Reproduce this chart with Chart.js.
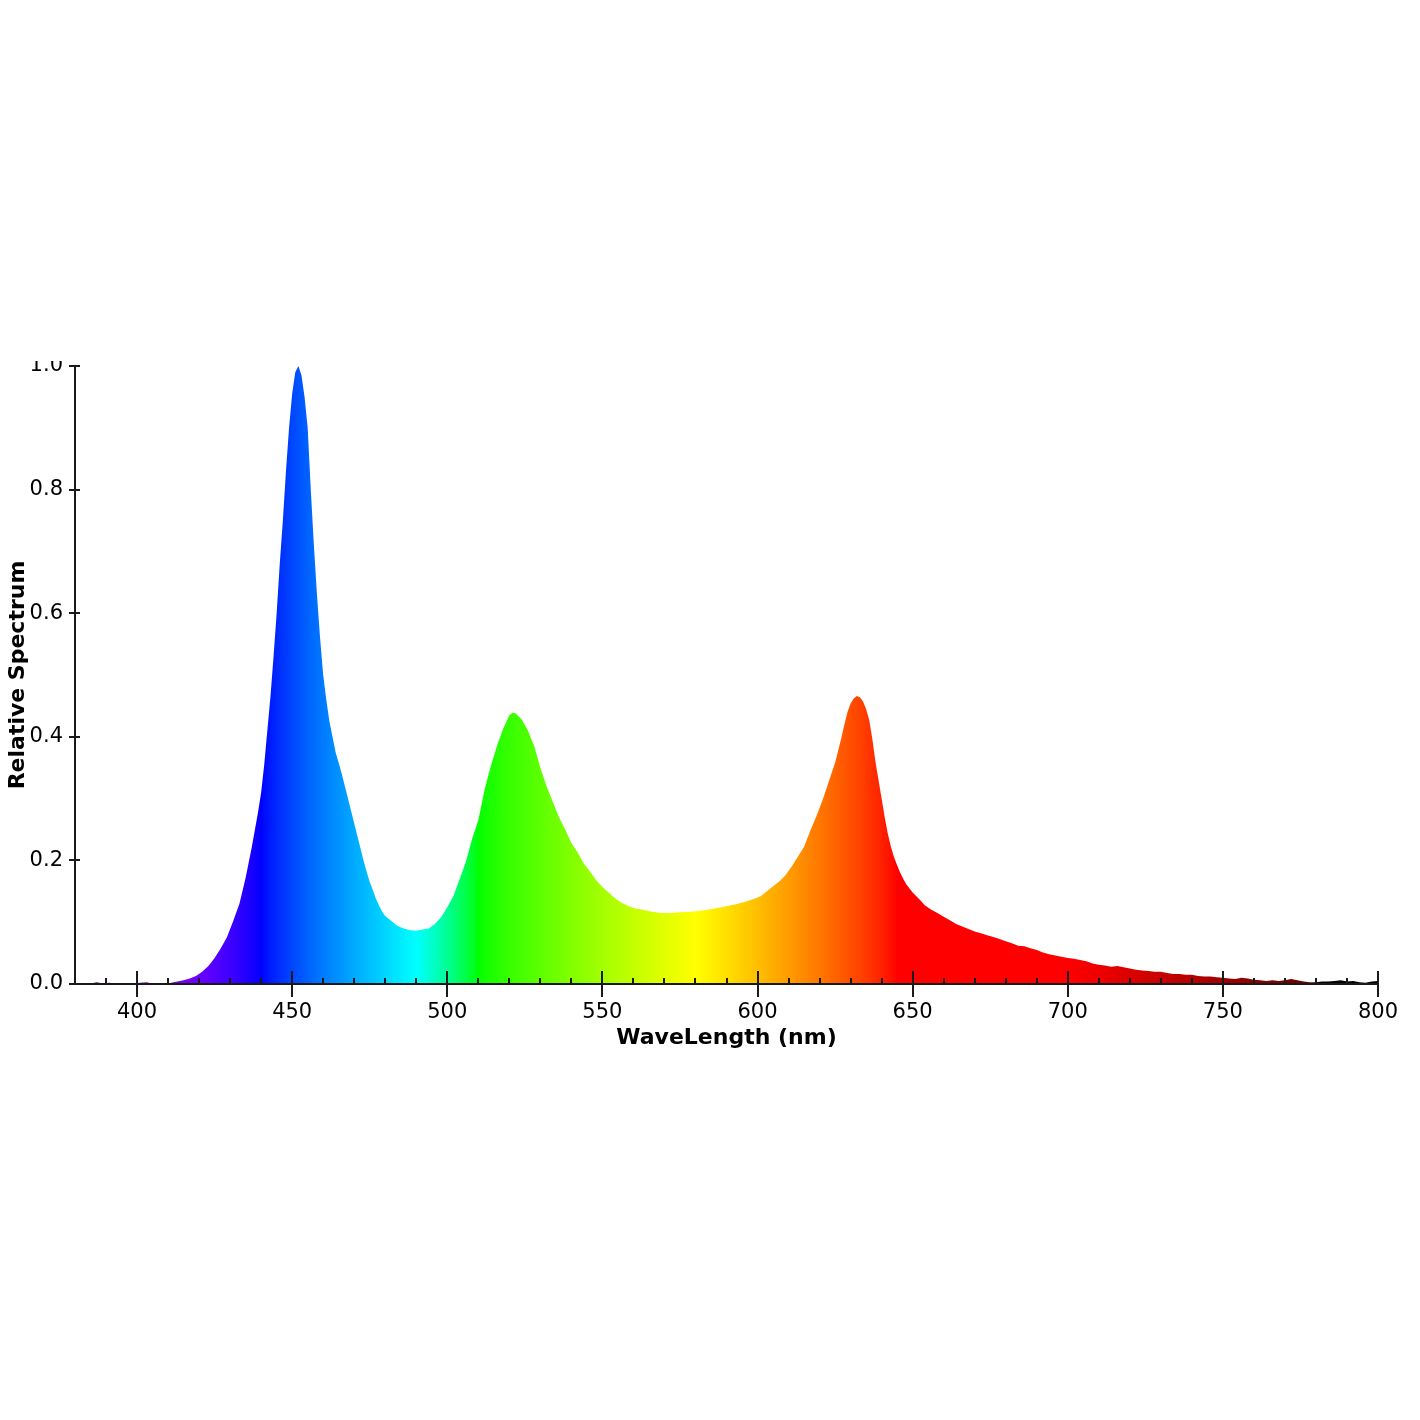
<!DOCTYPE html>
<html>
<head>
<meta charset="utf-8">
<script src="https://cdn.jsdelivr.net/npm/chart.js@4.4.1/dist/chart.umd.min.js"></script>
<style>
  html, body { margin: 0; padding: 0; background: #fff; }
</style>
</head>
<body>
<canvas id="mychart" width="1420" height="1420"></canvas>
<script>
// wavelength (nm) and relative spectrum
var wavelengths = [
  380, 383, 385, 387, 389, 391, 393, 395, 397, 399, 401, 403, 405, 407, 409, 411, 413, 415, 417, 419,
  421, 423, 425, 427, 429, 431, 433, 435, 437, 439, 440, 441, 442, 443, 444, 445, 446, 447, 448, 449,
  450, 451, 452, 453, 454, 455, 456, 457, 458, 459, 460, 461, 462, 463, 464, 465, 466, 467, 468, 469,
  470, 471, 472, 473, 474, 475, 476, 477, 478, 479, 480, 482, 484, 486, 488, 490, 492, 494, 496, 498,
  500, 502, 504, 506, 508, 510, 512, 514, 516, 518, 520, 521, 522, 524, 526, 528, 530, 532, 534, 536,
  538, 540, 542, 544, 546, 548, 550, 552, 554, 556, 558, 560, 563, 566, 569, 572, 575, 578, 581, 584,
  587, 590, 593, 596, 599, 601, 603, 605, 607, 609, 611, 613, 615, 617, 619, 621, 623, 625, 627, 628,
  629, 630, 631, 632, 633, 634, 635, 636, 637, 638, 639, 640, 641, 642, 643, 644, 645, 646, 647, 648,
  650, 652, 654, 656, 658, 660, 662, 664, 666, 668, 670, 672, 674, 676, 678, 680, 682, 684, 686, 688,
  690, 692, 694, 696, 698, 700, 702, 704, 706, 708, 710, 712, 714, 716, 718, 720, 722, 724, 726, 728,
  730, 732, 734, 736, 738, 740, 742, 744, 746, 748, 750, 752, 754, 756, 758, 760, 762, 764, 766, 768,
  770, 772, 774, 776, 778, 780, 782, 784, 786, 788, 790, 792, 794, 796, 798, 800
];
var spectrum = [
  0.000, 0.001, 0.001, 0.003, 0.001, 0.002, 0.001, 0.001, 0.000, 0.001, 0.002, 0.003, 0.001, 0.001, 0.001, 0.002, 0.004, 0.006, 0.009, 0.013,
  0.020, 0.029, 0.042, 0.058, 0.076, 0.102, 0.130, 0.172, 0.222, 0.278, 0.310, 0.355, 0.410, 0.465, 0.530, 0.600, 0.680, 0.750, 0.830, 0.900,
  0.955, 0.990, 1.000, 0.985, 0.950, 0.900, 0.800, 0.710, 0.630, 0.560, 0.500, 0.460, 0.425, 0.400, 0.375, 0.358, 0.340, 0.320, 0.300, 0.280,
  0.260, 0.240, 0.220, 0.200, 0.182, 0.165, 0.152, 0.138, 0.127, 0.117, 0.110, 0.102, 0.094, 0.090, 0.087, 0.086, 0.088, 0.090, 0.097, 0.108,
  0.124, 0.143, 0.170, 0.198, 0.235, 0.265, 0.314, 0.352, 0.385, 0.413, 0.435, 0.439, 0.438, 0.428, 0.410, 0.385, 0.350, 0.320, 0.295, 0.270,
  0.250, 0.228, 0.213, 0.195, 0.182, 0.168, 0.157, 0.148, 0.139, 0.132, 0.127, 0.123, 0.120, 0.117, 0.115, 0.115, 0.116, 0.117, 0.118, 0.120,
  0.123, 0.126, 0.129, 0.133, 0.138, 0.142, 0.150, 0.158, 0.166, 0.176, 0.190, 0.206, 0.222, 0.248, 0.272, 0.298, 0.328, 0.358, 0.398, 0.420,
  0.440, 0.454, 0.462, 0.466, 0.464, 0.457, 0.445, 0.427, 0.397, 0.360, 0.330, 0.300, 0.270, 0.243, 0.222, 0.205, 0.192, 0.180, 0.170, 0.161,
  0.148, 0.138, 0.127, 0.120, 0.115, 0.109, 0.103, 0.097, 0.093, 0.089, 0.085, 0.082, 0.079, 0.076, 0.073, 0.069, 0.066, 0.062, 0.061, 0.058,
  0.055, 0.051, 0.048, 0.046, 0.044, 0.042, 0.041, 0.039, 0.037, 0.033, 0.031, 0.030, 0.028, 0.029, 0.027, 0.025, 0.023, 0.022, 0.021, 0.020,
  0.020, 0.018, 0.016, 0.016, 0.015, 0.015, 0.013, 0.012, 0.012, 0.011, 0.010, 0.009, 0.008, 0.010, 0.009, 0.007, 0.006, 0.005, 0.006, 0.005,
  0.006, 0.008, 0.006, 0.004, 0.003, 0.003, 0.004, 0.004, 0.005, 0.006, 0.004, 0.005, 0.003, 0.002, 0.004, 0.005
];
var xTicks = [400, 450, 500, 550, 600, 650, 700, 750, 800];
var yTicks = [0, 0.2, 0.4, 0.6, 0.8, 1.0];

var xMinor = [];
for (var t = 390; t < 800; t += 10) {
  if (xTicks.indexOf(t) < 0) xMinor.push(t);
}

// visible-spectrum colour for a wavelength (Bruton style)
function waveColor(w) {
  var r = 0, g = 0, b = 0;
  if (w < 440) { r = (440 - w) / 60; b = 1; }
  else if (w < 490) { g = (w - 440) / 50; b = 1; }
  else if (w < 510) { g = 1; b = (510 - w) / 20; }
  else if (w < 580) { r = (w - 510) / 70; g = 1; }
  else if (w < 645) { r = 1; g = (645 - w) / 65; }
  else { r = 1; }
  var f = 1;
  if (w < 420) f = 0.3 + 0.7 * (w - 380) / 40;
  else if (w > 700 && w <= 780) f = 0.3 + 0.7 * (780 - w) / 80;
  else if (w > 780) f = 0;
  function c(v) { return Math.round(255 * Math.pow(v * f, 0.8)); }
  return 'rgb(' + c(r) + ',' + c(g) + ',' + c(b) + ')';
}

function spectrumFill(context) {
  var chart = context.chart;
  if (!chart.chartArea) return '#888';
  var xs = chart.scales.x;
  var x0 = xs.getPixelForValue(380), x1 = xs.getPixelForValue(800);
  var grad = chart.ctx.createLinearGradient(x0, 0, x1, 0);
  for (var w = 380; w <= 800; w++) {
    grad.addColorStop((w - 380) / 420, waveColor(w));
  }
  return grad;
}

var axisTicks = {
  id: 'axisTicks',
  beforeDraw: function (chart) {
    // the top tick label is cut by the plot frame in the original
    var ctx = chart.ctx, a = chart.chartArea;
    ctx.save();
    ctx.beginPath();
    ctx.rect(0, 0, chart.width, chart.height);
    ctx.rect(0, 0, a.left - 6, a.top - 5);
    ctx.clip('evenodd');
  },
  afterDraw: function (chart) {
    var ctx = chart.ctx, a = chart.chartArea;
    ctx.restore();
    var xs = chart.scales.x, ys = chart.scales.y;
    ctx.save();
    ctx.strokeStyle = '#1a1a1a';
    ctx.lineWidth = 2;
    ctx.beginPath();
    ctx.moveTo(a.left, a.top);
    ctx.lineTo(a.left, a.bottom);
    ctx.lineTo(a.right, a.bottom);
    yTicks.forEach(function (v) {
      var p = Math.round(ys.getPixelForValue(v));
      ctx.moveTo(a.left - 6, p);
      ctx.lineTo(a.left + 5, p);
    });
    xTicks.forEach(function (v) {
      var p = Math.round(xs.getPixelForValue(v));
      ctx.moveTo(p, a.bottom - 13);
      ctx.lineTo(p, a.bottom + 13);
    });
    xMinor.forEach(function (v) {
      var p = Math.round(xs.getPixelForValue(v));
      ctx.moveTo(p, a.bottom - 6);
      ctx.lineTo(p, a.bottom);
    });
    ctx.stroke();
    ctx.restore();
  }
};

Chart.defaults.font.family = "'DejaVu Sans', sans-serif";
Chart.defaults.font.size = 20;
Chart.defaults.color = '#000';

var ctx = document.getElementById('mychart').getContext('2d');
var myChart = new Chart(ctx, {
  type: 'line',
  data: {
    labels: wavelengths,
    datasets: [{
      label: 'Relative Spectrum',
      data: wavelengths.map(function (w, i) { return { x: w, y: spectrum[i] }; }),
      fill: 'origin',
      backgroundColor: spectrumFill,
      borderWidth: 0,
      pointRadius: 0,
      tension: 0
    }]
  },
  options: {
    responsive: false,
    animation: false,
    layout: { padding: { top: 366, right: 42, bottom: 369, left: 0 } },
    plugins: { legend: { display: false }, tooltip: { enabled: false } },
    scales: {
      x: {
        type: 'linear',
        min: 380,
        max: 800,
        grid: { display: false, drawTicks: false },
        border: { display: false },
        afterBuildTicks: function (scale) {
          scale.ticks = xTicks.map(function (v) { return { value: v }; });
        },
        ticks: { padding: 16, maxRotation: 0, autoSkip: false, font: { size: 21 } },
        title: {
          display: true,
          text: 'WaveLength (nm)',
          font: { size: 22, weight: 'bold' },
          padding: 0
        },
        afterFit: function (scale) { scale.height = 67; }
      },
      y: {
        min: 0,
        max: 1,
        grid: { display: false, drawTicks: false },
        border: { display: false },
        afterBuildTicks: function (scale) {
          scale.ticks = yTicks.map(function (v) { return { value: v }; });
        },
        ticks: {
          padding: 12,
          font: { size: 21 },
          callback: function (v) { return v.toFixed(1); }
        },
        title: {
          display: true,
          text: 'Relative Spectrum',
          font: { size: 22, weight: 'bold' },
          padding: { top: 5, bottom: 0 }
        },
        afterFit: function (scale) { scale.width = 75; }
      }
    }
  },
  plugins: [axisTicks]
});
</script>
</body>
</html>
